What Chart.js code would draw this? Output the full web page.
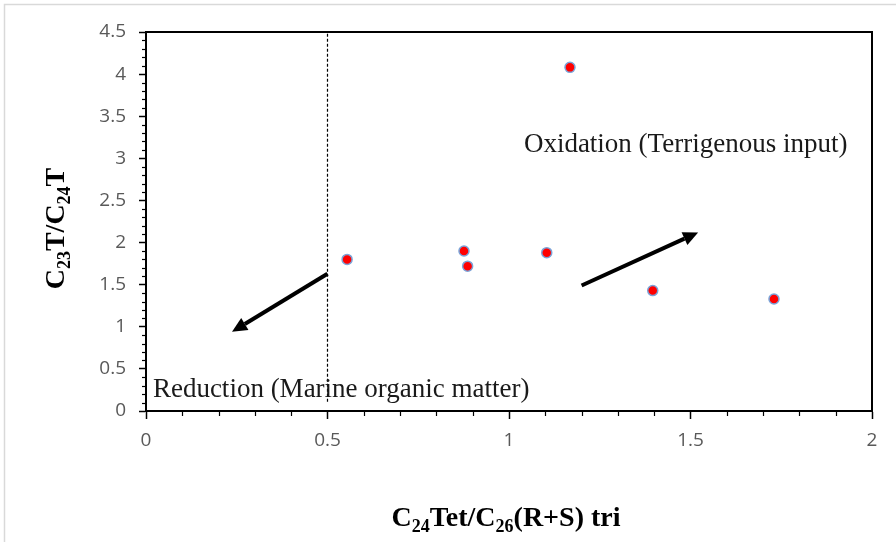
<!DOCTYPE html>
<html>
<head>
<meta charset="utf-8">
<script src="https://cdn.jsdelivr.net/npm/chart.js@4/dist/chart.umd.min.js"></script>
<style>
  html, body { margin: 0; padding: 0; background: #fff; }
  #wrap { width: 896px; height: 542px; }
</style>
</head>
<body>
<div id="wrap"><canvas id="scatter-chart" width="896" height="542"></canvas></div>
<script>
// samples: C24Tet/C26(R+S) tri vs C23T/C24T
const xValues = [0.554, 0.876, 0.886, 1.104, 1.168, 1.396, 1.730];
const yValues = [1.80, 1.90, 1.72, 1.88, 4.08, 1.43, 1.33];

// axis ranges / ticks
const xTicks = [0, 0.5, 1, 1.5, 2];
const yTicks = [0, 0.5, 1, 1.5, 2, 2.5, 3, 3.5, 4, 4.5];

// dashed divider at x = 0.5
const dividerX = [0.5, 0.5];
const dividerY = [0.11, 4.48];

// arrows [x0, y0, x1, y1] in data units
const arrowReduction = [0.50, 1.63, 0.237, 0.94];
const arrowOxidation = [1.20, 1.49, 1.521, 2.12];

// labels placed at data positions (left, baseline)
const noteOxidation = { text: 'Oxidation (Terrigenous input)', x: 1.041, y: 3.07 };
const noteReduction = { text: 'Reduction (Marine organic matter)', x: 0.019, y: 0.17 };

const points = xValues.map((v, i) => ({ x: v, y: yValues[i] }));
const divider = dividerX.map((v, i) => ({ x: v, y: dividerY[i] }));

function drawRich(ctx, parts, size, cx, cy) {
  const big = 'bold ' + size + 'px "Liberation Serif", serif';
  const small = 'bold ' + Math.round(size * 0.65) + 'px "Liberation Serif", serif';
  let w = 0;
  parts.forEach(p => { ctx.font = p.sub ? small : big; w += ctx.measureText(p.t).width; });
  let x = cx - w / 2;
  ctx.textBaseline = 'alphabetic';
  ctx.textAlign = 'left';
  parts.forEach(p => {
    ctx.font = p.sub ? small : big;
    ctx.fillText(p.t, x, cy + (p.sub ? size * 0.22 : 0));
    x += ctx.measureText(p.t).width;
  });
}

function drawArrow(ctx, x0, y0, x1, y1) {
  const ang = Math.atan2(y1 - y0, x1 - x0);
  const head = 15, half = 7;
  const bx = x1 - head * Math.cos(ang), by = y1 - head * Math.sin(ang);
  ctx.beginPath();
  ctx.moveTo(x0, y0);
  ctx.lineTo(bx, by);
  ctx.lineWidth = 4;
  ctx.strokeStyle = '#000';
  ctx.stroke();
  ctx.beginPath();
  ctx.moveTo(x1, y1);
  ctx.lineTo(bx + half * Math.sin(ang), by - half * Math.cos(ang));
  ctx.lineTo(bx - half * Math.sin(ang), by + half * Math.cos(ang));
  ctx.closePath();
  ctx.fillStyle = '#000';
  ctx.fill();
}

const deco = {
  id: 'deco',
  beforeDraw(chart) {
    const ctx = chart.ctx;
    ctx.save();
    ctx.fillStyle = '#fff';
    ctx.fillRect(0, 0, chart.width, chart.height);
    ctx.strokeStyle = '#d9d9d9';
    ctx.lineWidth = 1.5;
    ctx.strokeRect(4.5, 4.5, chart.width + 10, chart.height + 10);
    ctx.restore();
  },
  afterDraw(chart) {
    const { ctx, chartArea: a, scales: { x, y } } = chart;
    ctx.save();
    // minor ticks
    ctx.strokeStyle = '#000';
    ctx.lineWidth = 1.2;
    for (let i = 0; i <= 20; i++) {
      if (i % 5 === 0) continue;
      const px = Math.round(x.getPixelForValue(i / 10)) + 0.5;
      ctx.beginPath(); ctx.moveTo(px, a.bottom); ctx.lineTo(px, a.bottom + 5); ctx.stroke();
    }
    for (let i = 0; i <= 45; i++) {
      if (i % 5 === 0) continue;
      const py = Math.round(y.getPixelForValue(i / 10)) + 0.5;
      ctx.beginPath(); ctx.moveTo(a.left, py); ctx.lineTo(a.left - 4, py); ctx.stroke();
    }
    // plot frame
    ctx.lineWidth = 2;
    ctx.strokeRect(a.left, a.top, a.right - a.left, a.bottom - a.top);

    // arrows
    [arrowReduction, arrowOxidation].forEach(ar => {
      drawArrow(ctx, x.getPixelForValue(ar[0]), y.getPixelForValue(ar[1]),
                x.getPixelForValue(ar[2]), y.getPixelForValue(ar[3]));
    });

    // notes
    ctx.fillStyle = '#1a1a1a';
    ctx.font = '27px "Liberation Serif", serif';
    ctx.textAlign = 'left';
    ctx.textBaseline = 'alphabetic';
    [noteOxidation, noteReduction].forEach(n => {
      ctx.fillText(n.text, x.getPixelForValue(n.x), y.getPixelForValue(n.y));
    });

    // axis titles
    ctx.fillStyle = '#000';
    drawRich(ctx, [{ t: 'C' }, { t: '24', sub: true }, { t: 'Tet/C' }, { t: '26', sub: true }, { t: '(R+S) tri' }],
      28, (a.left + a.right) / 2 - 3, 526);
    ctx.save();
    ctx.translate(64, (a.top + a.bottom) / 2 + 7);
    ctx.rotate(-Math.PI / 2);
    drawRich(ctx, [{ t: 'C' }, { t: '23', sub: true }, { t: 'T/C' }, { t: '24', sub: true }, { t: 'T' }], 28, 0, 0);
    ctx.restore();
    ctx.restore();
  }
};

const tickFont = { family: '"Open Sans", sans-serif', size: 19 };

new Chart(document.getElementById('scatter-chart'), {
  type: 'scatter',
  data: {
    datasets: [
      {
        label: 'samples',
        data: points,
        pointRadius: 5,
        pointHoverRadius: 5,
        backgroundColor: '#ff0000',
        borderColor: '#7ba3d8',
        borderWidth: 1.5
      },
      {
        label: 'divider',
        data: divider,
        showLine: true,
        pointRadius: 0,
        borderColor: '#000',
        borderWidth: 1.2,
        borderDash: [3, 2]
      }
    ]
  },
  options: {
    responsive: false,
    animation: false,
    layout: { padding: { top: 32, right: 24, left: 0, bottom: 0 } },
    plugins: { legend: { display: false }, tooltip: { enabled: false } },
    scales: {
      x: {
        type: 'linear',
        min: xTicks[0],
        max: xTicks[xTicks.length - 1],
        afterFit: s => { s.height = 131; },
        afterBuildTicks: s => { s.ticks = xTicks.map(v => ({ value: v })); },
        grid: { drawOnChartArea: false, drawTicks: true, tickLength: 8, tickColor: '#000', tickWidth: 1.5 },
        border: { display: true, color: '#000', width: 2 },
        ticks: { padding: 10, color: '#595959', font: tickFont, callback: v => String(v) }
      },
      y: {
        type: 'linear',
        min: yTicks[0],
        max: yTicks[yTicks.length - 1],
        afterFit: s => { s.width = 146; },
        afterBuildTicks: s => { s.ticks = yTicks.map(v => ({ value: v })); },
        grid: { drawOnChartArea: false, drawTicks: true, tickLength: 7, tickColor: '#000', tickWidth: 1.5 },
        border: { display: true, color: '#000', width: 2 },
        ticks: { padding: 13, color: '#595959', font: tickFont, callback: v => String(v) }
      }
    }
  },
  plugins: [deco]
});
</script>
</body>
</html>
